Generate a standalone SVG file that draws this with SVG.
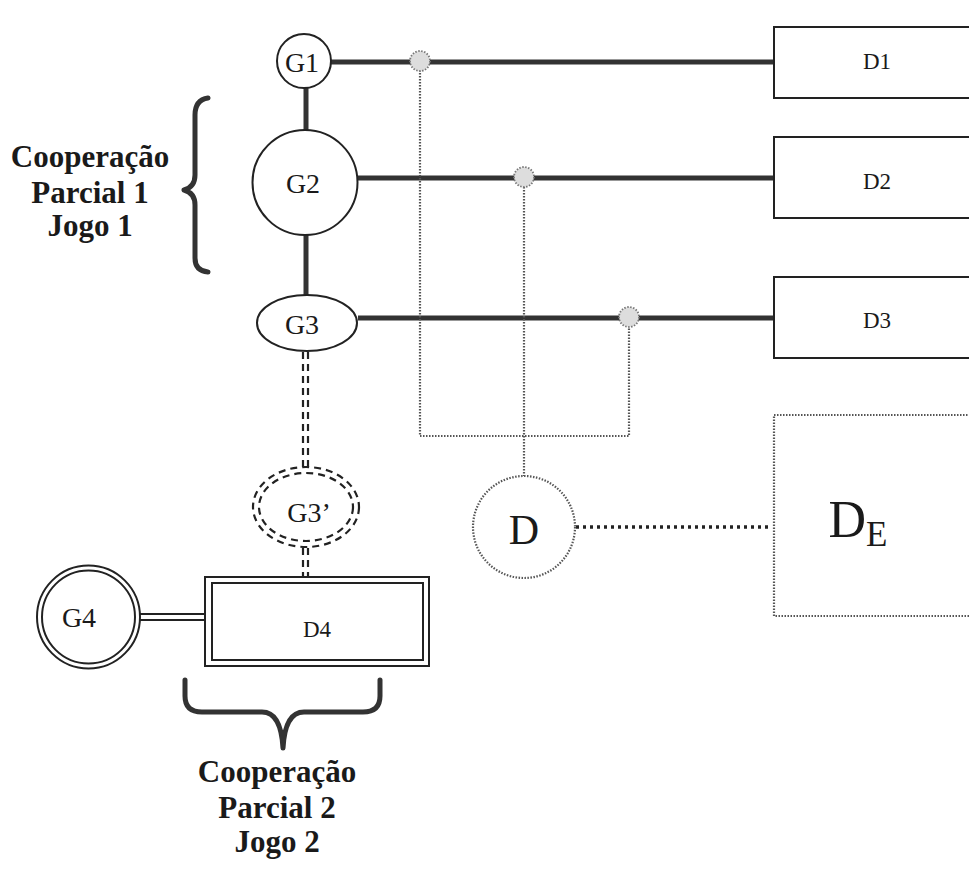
<svg xmlns="http://www.w3.org/2000/svg" width="969" height="869" viewBox="0 0 969 869">
<style>
  text { font-family: "Liberation Serif", "Times New Roman", serif; fill: #1a1a1a; text-anchor: middle; }
  .lbl { font-size: 31px; font-weight: bold; }
  .g { font-size: 28px; }
  .d { font-size: 23px; }
  .box { fill: #fff; stroke: #222; stroke-width: 2; }
  .thin { fill: none; stroke: #222; stroke-width: 2; }
  .thick { fill: none; stroke: #333; stroke-width: 5; }
  .dot { fill: none; stroke: #555; stroke-width: 2.2; stroke-dasharray: 1.5 1.5; }
  .dotbold { fill: none; stroke: #222; stroke-width: 3.5; stroke-dasharray: 3 4; }
  .dash { fill: none; stroke: #222; stroke-width: 2.2; stroke-dasharray: 7 5; }
  .brace { fill: none; stroke: #333; stroke-width: 5; stroke-linecap: round; stroke-linejoin: round; }
  .junc { fill: #ddd; stroke: #777; stroke-width: 1.8; stroke-dasharray: 1.5 1.5; }
</style>

<g id="connectors">
  <line class="thick" x1="306" y1="88" x2="306" y2="130"/>
  <line class="thick" x1="306" y1="235" x2="306" y2="295"/>
  <line class="thick" x1="330" y1="62" x2="774" y2="62"/>
  <line class="thick" x1="357" y1="178" x2="774" y2="178"/>
  <line class="thick" x1="358" y1="318" x2="774" y2="318"/>
  <path class="dot" d="M420,70 V436 H629 V327"/>
  <path class="dot" d="M524,187 V476"/>
  <line class="dotbold" x1="576" y1="527" x2="772" y2="527"/>
  <line class="dash" x1="303" y1="352" x2="303" y2="468"/>
  <line class="dash" x1="308" y1="352" x2="308" y2="468"/>
  <line class="dash" x1="303" y1="548" x2="303" y2="578"/>
  <line class="dash" x1="308" y1="548" x2="308" y2="578"/>
  <line class="thin" x1="140" y1="614" x2="206" y2="614"/>
  <line class="thin" x1="140" y1="620" x2="206" y2="620"/>
  <circle class="junc" cx="420" cy="61" r="10"/>
  <circle class="junc" cx="524" cy="177" r="10"/>
  <circle class="junc" cx="629" cy="317" r="10"/>
</g>

<g id="G1">
  <circle class="box" cx="304" cy="61" r="27"/>
  <text class="g" x="302" y="72">G1</text>
</g>
<g id="G2">
  <circle class="box" cx="305" cy="182.5" r="52.5"/>
  <text class="g" x="303" y="193">G2</text>
</g>
<g id="G3">
  <ellipse class="box" cx="307" cy="323" rx="50" ry="28"/>
  <text class="g" x="302" y="334">G3</text>
</g>
<g id="G3prime">
  <ellipse class="dash" cx="306" cy="507" rx="53" ry="40"/>
  <ellipse class="dash" cx="306" cy="507" rx="47" ry="34"/>
  <text class="g" x="309" y="522">G3’</text>
</g>
<g id="G4">
  <circle class="thin" cx="88.5" cy="617" r="51.5"/>
  <circle class="thin" cx="88.5" cy="617" r="46.5"/>
  <text class="g" x="79" y="627">G4</text>
</g>
<g id="D4">
  <rect class="thin" x="205" y="577" width="224" height="89"/>
  <rect class="thin" x="212" y="583" width="211" height="77"/>
  <text class="d" x="317" y="637">D4</text>
</g>
<g id="D1">
  <rect class="box" x="774" y="27" width="210" height="71"/>
  <text class="d" x="877" y="69">D1</text>
</g>
<g id="D2">
  <rect class="box" x="774" y="137" width="210" height="81"/>
  <text class="d" x="877" y="189">D2</text>
</g>
<g id="D3">
  <rect class="box" x="774" y="277" width="210" height="81"/>
  <text class="d" x="877" y="328">D3</text>
</g>
<g id="D">
  <circle class="dot" cx="524" cy="527" r="51"/>
  <text x="524" y="544" style="font-size:42px">D</text>
</g>
<g id="DE">
  <rect class="dot" x="774" y="415" width="210" height="201"/>
  <text x="866" y="537" style="font-size:52px;text-anchor:end">D</text>
  <text x="866" y="546" style="font-size:35px;text-anchor:start">E</text>
</g>

<g id="brace1">
  <path class="brace" d="M208,98 Q195,100 195,115 L195,175 Q195,187 184,190 Q195,193 195,205 L195,258 Q195,271 208,272"/>
  <text class="lbl" x="90" y="167">Cooperação</text>
  <text class="lbl" x="90" y="203">Parcial 1</text>
  <text class="lbl" x="90" y="236">Jogo 1</text>
</g>
<g id="brace2">
  <path class="brace" d="M185,680 L185,696 Q185,712 202,712 L262,712 Q281,712 283,748 Q285,712 304,712 L363,712 Q380,712 380,696 L380,680"/>
  <text class="lbl" x="277" y="782">Cooperação</text>
  <text class="lbl" x="277" y="818">Parcial 2</text>
  <text class="lbl" x="277" y="852">Jogo 2</text>
</g>
</svg>
